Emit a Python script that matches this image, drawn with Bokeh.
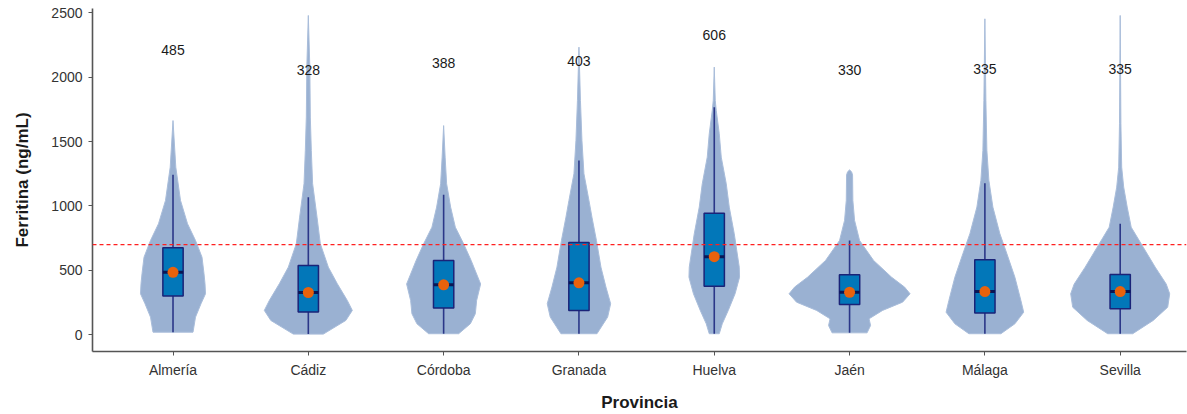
from bokeh.plotting import figure
from bokeh.models import ColumnDataSource, Span, FixedTicker, Range1d
from bokeh.embed import file_html
from bokeh.resources import INLINE

# ---------------- data ----------------
provinces = ["Almería", "Cádiz", "Córdoba", "Granada", "Huelva", "Jaén", "Málaga", "Sevilla"]
medians = [485, 328, 388, 403, 606, 330, 335, 335]
q1 = [300, 176, 207, 189, 377, 235, 168, 202]
q3 = [675, 538, 577, 717, 944, 466, 582, 468]
whisk_lo = [20, 5, 8, 8, 8, 15, 8, 8]
whisk_hi = [1242, 1068, 1087, 1353, 1767, 732, 1177, 862]
threshold = 700

# violin outlines: ferritin levels and relative density (half-width)
almeria_lv = [20, 137, 241, 318, 396, 474, 602, 732, 862, 1043, 1301, 1663]
almeria_d = [20, 22.5, 28, 32.5, 32, 31, 29, 22.5, 14.5, 7.5, 2.8, 0]
cadiz_lv = [5, 111, 189, 266, 396, 525, 707, 913, 1173, 1431, 1690, 2078, 2479]
cadiz_d = [15, 37.5, 44, 39, 29, 20, 12, 8.7, 4.3, 3, 2, 1.5, 0]
cordoba_lv = [8, 85, 163, 266, 394, 577, 706, 835, 991, 1172, 1379, 1624]
cordoba_d = [15, 26.7, 31.7, 33, 37, 27.5, 20, 11.7, 7, 3, 1.5, 0]
granada_lv = [8, 137, 241, 370, 525, 732, 913, 1043, 1250, 1508, 1819, 2233]
granada_d = [18, 28.7, 31.7, 27, 22, 17.5, 13, 10, 5, 3, 1.5, 0]
huelva_lv = [8, 85, 189, 318, 447, 525, 784, 991, 1172, 1379, 1561, 1741, 1819, 2078]
huelva_d = [5, 8, 14, 20.8, 25.3, 25, 20, 15, 12, 7, 5, 2, 1, 0]
jaen_lv = [15, 72, 124, 189, 253, 318, 370, 447, 577, 732, 888, 1043, 1240, 1265, 1280]
jaen_d = [17.5, 21, 19.5, 33, 53, 60.5, 55, 42, 24, 10, 5, 3.3, 3, 2, 0]
malaga_lv = [8, 85, 175, 266, 447, 629, 784, 991, 1198, 1431, 1819, 2453]
malaga_d = [16, 30, 38.8, 36, 30, 22, 15, 8, 4, 2, 1, 0]
sevilla_lv = [8, 111, 214, 318, 394, 525, 680, 835, 991, 1146, 1301, 1638, 2479]
sevilla_d = [12.5, 33, 47.5, 49.5, 46, 35, 23, 11, 7, 3.5, 1.5, 0.7, 0]

violin_levels = [almeria_lv, cadiz_lv, cordoba_lv, granada_lv, huelva_lv, jaen_lv, malaga_lv, sevilla_lv]
violin_dens = [almeria_d, cadiz_d, cordoba_d, granada_d, huelva_d, jaen_d, malaga_d, sevilla_d]

# ---------------- styling ----------------
FONT = "Liberation Sans"
DENS_SCALE = 1 / 135.3
BOX_W = 0.15
LABEL_OFFSET = 1725

xs_pos = list(range(1, len(provinces) + 1))

p = figure(width=1187, height=414, output_backend="svg", toolbar_location=None,
           x_range=Range1d(0.405, 8.49), y_range=Range1d(-130, 2533),
           min_border_left=92, min_border_right=1, min_border_top=8, min_border_bottom=63)
p.outline_line_color = None
p.xgrid.visible = False
p.ygrid.visible = False
p.background_fill_color = "white"
p.border_fill_color = "white"

# violins
vx, vy = [], []
for c, lv, d in zip(xs_pos, violin_levels, violin_dens):
    left = [c - w * DENS_SCALE for w in d]
    right = [c + w * DENS_SCALE for w in reversed(d)]
    vx.append(left + right)
    vy.append(list(lv) + list(reversed(lv)))
p.patches(vx, vy, fill_color="#9AB1D2", fill_alpha=1.0, line_color="#A9BDDA", line_width=1)

# threshold
p.add_layout(Span(location=threshold, dimension="width", line_color="#FF2020",
                  line_dash="4 3", line_width=1.3))

src = ColumnDataSource(dict(x=xs_pos, med=medians, q1=q1, q3=q3, lo=whisk_lo, hi=whisk_hi,
                            x0=[c - BOX_W / 2 for c in xs_pos], x1=[c + BOX_W / 2 for c in xs_pos],
                            ly=[m + LABEL_OFFSET for m in medians],
                            lab=[str(m) for m in medians]))

p.segment(x0="x", x1="x", y0="lo", y1="hi", source=src, line_color="#2B3788", line_width=1.6)
p.vbar(x="x", width=BOX_W, bottom="q1", top="q3", source=src,
       fill_color="#0277B9", line_color="#1A2378", line_width=1.5)
p.segment(x0="x0", x1="x1", y0="med", y1="med", source=src, line_color="#0A1655", line_width=3)
p.scatter(x="x", y="med", source=src, size=11, fill_color="#E8620C", line_color=None)

p.text(x="x", y="ly", text="lab", source=src, text_align="center", text_baseline="middle",
       text_font_size="14px", text_color="#1a1a1a", text_font={"value": FONT})

# axes
p.xaxis.ticker = FixedTicker(ticks=xs_pos)
p.xaxis.major_label_overrides = {i: n for i, n in zip(xs_pos, provinces)}
p.yaxis.ticker = FixedTicker(ticks=[0, 500, 1000, 1500, 2000, 2500])
for ax in (p.xaxis[0], p.yaxis[0]):
    ax.axis_line_color = "#555555"
    ax.axis_line_width = 1.6
    ax.major_tick_line_color = "#555555"
    ax.major_tick_line_width = 1
    ax.major_tick_out = 4
    ax.major_tick_in = 0
    ax.minor_tick_line_color = None
    ax.major_label_text_font = FONT
    ax.major_label_text_font_size = "14px"
    ax.major_label_text_color = "#333333"
    ax.major_label_standoff = 6
    ax.axis_label_text_font = FONT
    ax.axis_label_text_font_size = "17px"
    ax.axis_label_text_font_style = "bold"
    ax.axis_label_text_color = "#1a1a1a"
p.xaxis.axis_label = "Provincia"
p.yaxis.axis_label = "Ferritina (ng/mL)"
p.xaxis.axis_label_standoff = 12
p.yaxis.axis_label_standoff = 16

open("out.html", "w").write(file_html(p, INLINE))
